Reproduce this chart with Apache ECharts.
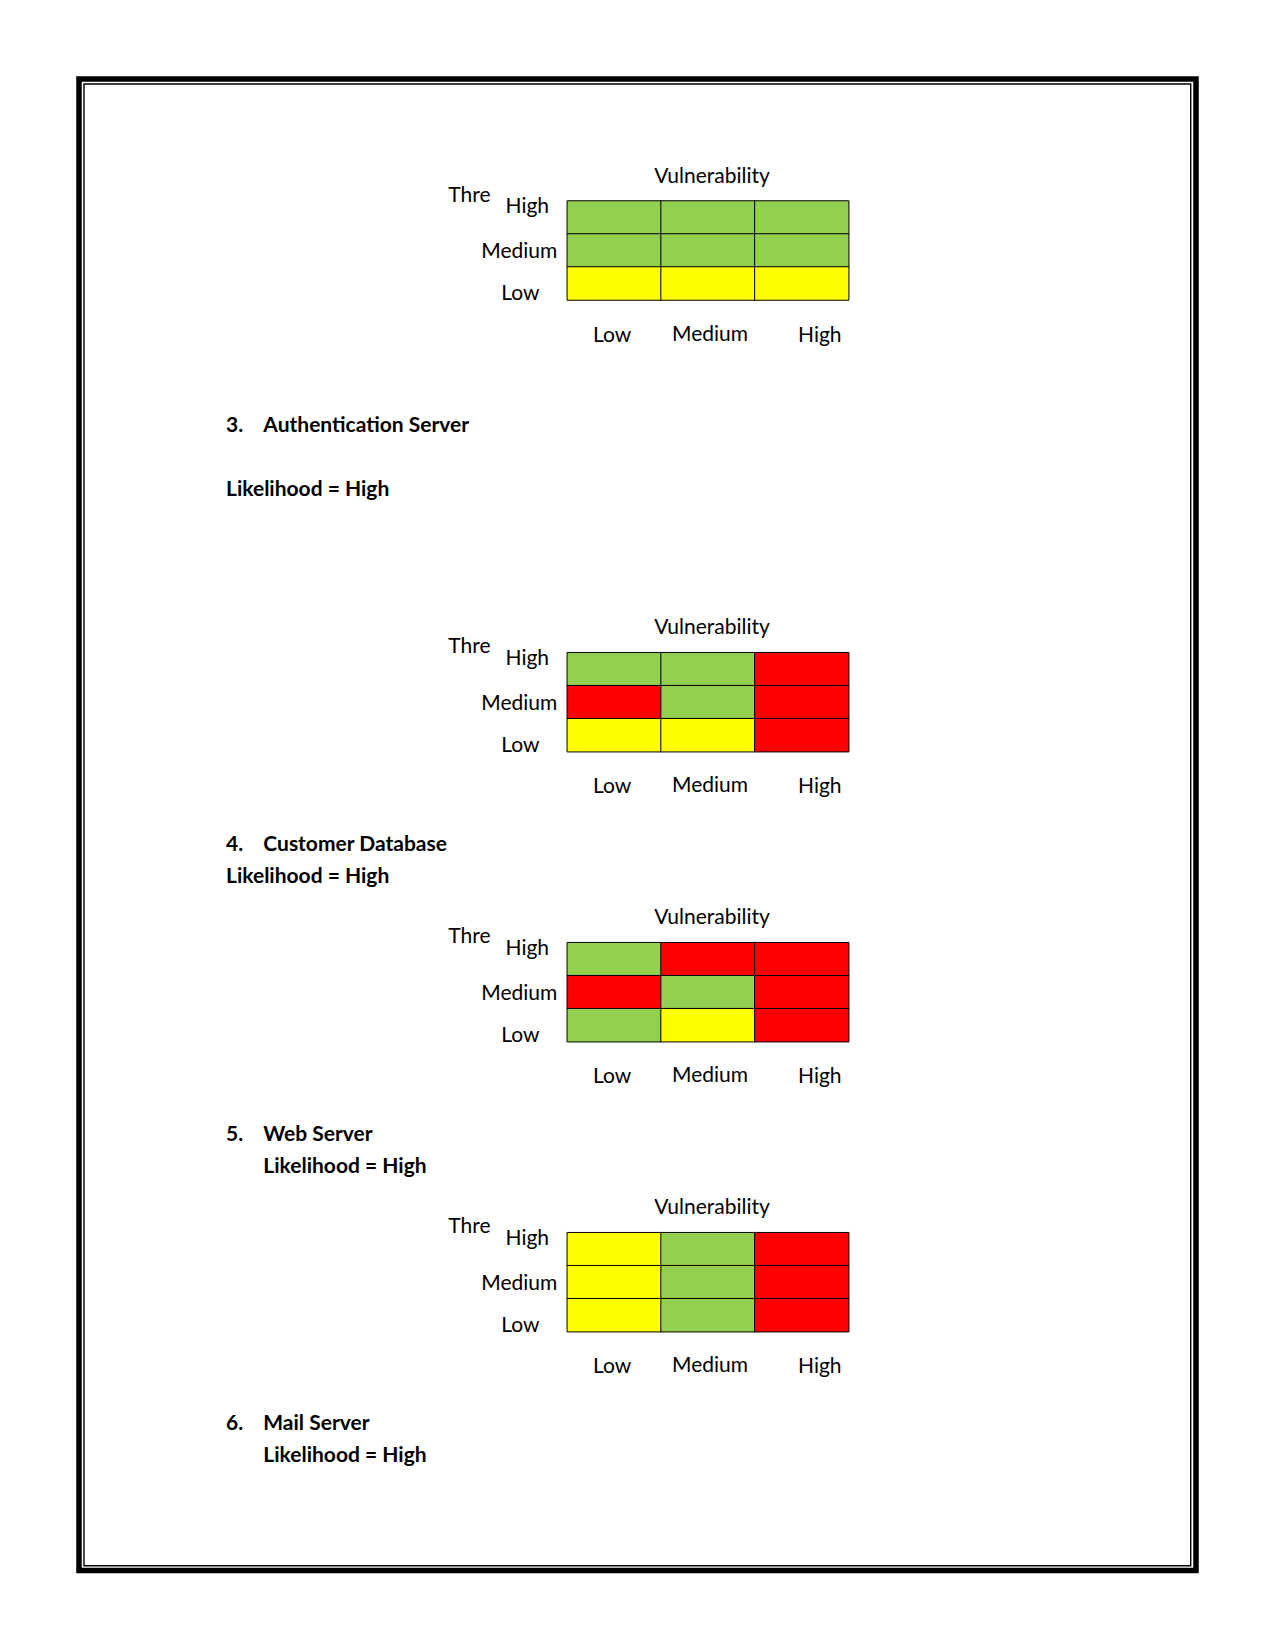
<!DOCTYPE html>
<html>
<head>
<meta charset="utf-8">
<script src="https://cdn.jsdelivr.net/npm/echarts@6/dist/echarts.min.js"></script>
<style>
html,body{margin:0;padding:0;background:#fff;}
#chart{width:1275px;height:1650px;}
</style>
</head>
<body>
<div id="chart"></div>
<script>
// ---- data ----
const vulnerabilityLevels = ['Low', 'Medium', 'High'];   // x categories
const threatLevels = ['Low', 'Medium', 'High'];          // y categories (bottom to top)
const xAxisTitle = 'Vulnerability';
const yAxisTitle = 'Thre';
// risk codes: 1 = green, 2 = yellow, 3 = red ; rows listed High, Medium, Low ; cols Low, Medium, High
const matrix1 = [[1, 1, 1], [1, 1, 1], [2, 2, 2]];
const matrix2 = [[1, 1, 3], [3, 1, 3], [2, 2, 3]];
const matrix3 = [[1, 3, 3], [3, 1, 3], [1, 2, 3]];
const matrix4 = [[2, 1, 3], [2, 1, 3], [2, 1, 3]];
const headings = [
  { num: '3.', title: 'Authentication Server', likelihood: 'Likelihood = High' },
  { num: '4.', title: 'Customer Database', likelihood: 'Likelihood = High' },
  { num: '5.', title: 'Web Server', likelihood: 'Likelihood = High' },
  { num: '6.', title: 'Mail Server', likelihood: 'Likelihood = High' }
];

// ---- layout / style ----
const FONT = 'Lato';
const FS = 21;
const gridLeft = 567.3, gridWidth = 281.4, gridHeight = 99;
const gridTops = [201, 652.7, 942.7, 1232.7];
const headingYs = [[423, 487.3], [842.3, 874], [1132.3, 1164], [1421.7, 1453]];
const likelihoodIndent = [226, 226, 263.3, 263.3];
const matrices = [matrix1, matrix2, matrix3, matrix4];

function toCells(m) {
  const out = [];
  for (let r = 0; r < 3; r++) {
    for (let c = 0; c < 3; c++) {
      out.push([c, 2 - r, m[r][c]]);
    }
  }
  return out;
}

const grids = [], xAxes = [], yAxes = [], series = [], graphics = [];
gridTops.forEach((top, i) => {
  grids.push({ left: gridLeft, top: top, width: gridWidth, height: gridHeight });
  xAxes.push({
    type: 'category', gridIndex: i, data: vulnerabilityLevels,
    axisLine: { show: false }, axisTick: { show: false }, splitLine: { show: false },
    axisLabel: {
      interval: 0, hideOverlap: false,
      margin: 33, verticalAlign: 'middle', color: '#000', fontFamily: FONT, fontSize: FS,
      formatter: v => v === 'High' ? '{hi|' + v + '}' : (v === 'Low' ? '{lo|' + v + '}' : '{md|' + v + '}'),
      rich: {
        hi: { fontFamily: FONT, fontSize: FS, color: '#000', padding: [0, 0, 0, 36] },
        md: { fontFamily: FONT, fontSize: FS, color: '#000', padding: [0, 0, 2, 4] },
        lo: { fontFamily: FONT, fontSize: FS, color: '#000', padding: [0, 4, 0, 0] }
      }
    }
  });
  yAxes.push({
    type: 'category', gridIndex: i, data: threatLevels,
    axisLine: { show: false }, axisTick: { show: false }, splitLine: { show: false },
    axisLabel: {
      interval: 0, hideOverlap: false,
      margin: 48, align: 'center', color: '#000', fontFamily: FONT, fontSize: FS,
      formatter: v => v === 'High' ? '{hi|' + v + '}' : (v === 'Low' ? '{lo|' + v + '}' : '{md|' + v + '}'),
      rich: {
        hi: { fontFamily: FONT, fontSize: FS, color: '#000', padding: [0, 0, 26, 16] },
        md: { fontFamily: FONT, fontSize: FS, color: '#000', padding: [0, 0, 2, 0] },
        lo: { fontFamily: FONT, fontSize: FS, color: '#000', padding: [16, 0, 0, 2] }
      }
    }
  });
  series.push({
    type: 'heatmap', xAxisIndex: i, yAxisIndex: i,
    data: toCells(matrices[i]),
    itemStyle: { borderColor: '#000', borderWidth: 1 },
    label: { show: false },
    emphasis: { disabled: true }
  });
  graphics.push({
    type: 'text', x: 712, y: top - 27,
    style: { text: xAxisTitle, font: FS + 'px ' + FONT, fill: '#000', textAlign: 'center', textVerticalAlign: 'middle' }
  });
  graphics.push({
    type: 'text', x: 448.3, y: top - 8,
    style: { text: yAxisTitle, font: FS + 'px ' + FONT, fill: '#000', textAlign: 'left', textVerticalAlign: 'middle' }
  });
});

headings.forEach((h, i) => {
  const bold = 'bold ' + FS + 'px ' + FONT;
  graphics.push({ type: 'text', x: 226, y: headingYs[i][0],
    style: { text: h.num, font: bold, fill: '#000', textVerticalAlign: 'middle' } });
  graphics.push({ type: 'text', x: 263.3, y: headingYs[i][0],
    style: { text: h.title, font: bold, fill: '#000', textVerticalAlign: 'middle' } });
  graphics.push({ type: 'text', x: likelihoodIndent[i], y: headingYs[i][1],
    style: { text: h.likelihood, font: bold, fill: '#000', textVerticalAlign: 'middle' } });
});

// page border (thick outer + thin inner)
graphics.push({ type: 'rect', shape: { x: 79, y: 79, width: 1117, height: 1491.5 },
  style: { fill: 'none', stroke: '#000', lineWidth: 5.5 } });
graphics.push({ type: 'rect', shape: { x: 84, y: 84, width: 1106.7, height: 1481.7 },
  style: { fill: 'none', stroke: '#000', lineWidth: 1.4 } });

const chart = echarts.init(document.getElementById('chart'), null, { renderer: 'svg', width: 1275, height: 1650 });
chart.setOption({
  animation: false,
  backgroundColor: '#fff',
  grid: grids,
  xAxis: xAxes,
  yAxis: yAxes,
  visualMap: {
    show: false, type: 'piecewise', dimension: 2,
    seriesIndex: [0, 1, 2, 3],
    pieces: [
      { value: 1, color: '#92D050' },
      { value: 2, color: '#FFFF00' },
      { value: 3, color: '#FF0000' }
    ]
  },
  series: series,
  graphic: graphics
});
</script>
</body>
</html>
